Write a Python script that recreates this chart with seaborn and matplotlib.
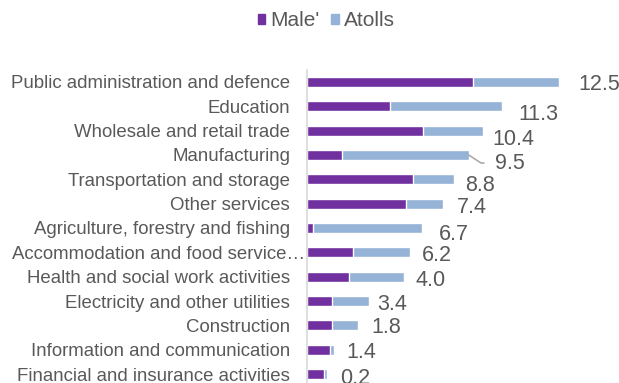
import matplotlib
matplotlib.use("Agg")
import matplotlib.pyplot as plt
from matplotlib.patches import Patch
from matplotlib.transforms import ScaledTranslation
import seaborn as sns
import pandas as pd

# Employment by industry, split between Male' and the atolls
industries = [
    "Public administration and defence",
    "Education",
    "Wholesale and retail trade",
    "Manufacturing",
    "Transportation and storage",
    "Other services",
    "Agriculture, forestry and fishing",
    "Accommodation and food service\u2026",
    "Health and social work activities",
    "Electricity and other utilities",
    "Construction",
    "Information and communication",
    "Financial and insurance activities",
]
male = [16.6, 8.3, 11.6, 3.5, 10.6, 9.9, 0.6, 4.6, 4.2, 2.5, 2.5, 2.3, 1.7]
atolls = [8.6, 11.2, 6.0, 12.7, 4.1, 3.7, 10.9, 5.7, 5.5, 3.7, 2.6, 0.4, 0.3]
shares = [12.5, 11.3, 10.4, 9.5, 8.8, 7.4, 6.7, 6.2, 4.0, 3.4, 1.8, 1.4, 0.2]

PURPLE = "#7030A0"
BLUE = "#95B3D7"
TEXT = "#595959"

sns.set_theme(style="white")
plt.rcParams["font.family"] = ["Liberation Sans", "DejaVu Sans"]

df = pd.DataFrame({"industry": industries, "male": male, "atolls": atolls})
df["total"] = df["male"] + df["atolls"]

W, H = 619, 383
fig = plt.figure(figsize=(W / 100, H / 100), dpi=100)
ax = fig.add_axes([306.7 / W, -3.2 / H, 300 / W, 316.4 / H])

sns.barplot(data=df, y="industry", x="total", color=BLUE, saturation=1,
            width=0.41, ax=ax)
sns.barplot(data=df, y="industry", x="male", color=PURPLE, saturation=1,
            width=0.41, ax=ax)

ax.set_xlim(0, 30)
ax.set_ylim(12.5, -0.5)
ax.set_xlabel("")
ax.set_ylabel("")
ax.set_xticks([])
for side in ("top", "right", "bottom"):
    ax.spines[side].set_visible(False)
ax.spines["left"].set_color("#D9D9D9")
ax.spines["left"].set_linewidth(1.2)
ax.tick_params(axis="y", length=0, pad=12, labelsize=13.4, labelcolor=TEXT)

# the truncated category label runs up to the axis line
for lbl in ax.get_yticklabels():
    if lbl.get_text().startswith("Accommodation"):
        lbl.set_transform(lbl.get_transform()
                          + ScaledTranslation(0.15, 0, fig.dpi_scale_trans))

# value labels (horizontal gap, downward shift) in pixels
nudges = [(20, 0), (17, 6), (10, 6.5), (26, 6.7), (11, 4), (14, 2), (17, 4),
          (12, 1), (12, 2), (9, 1.5), (14, 0), (13, 1), (13, 2)]
cap_half = 7.7
for i, (tot, val) in enumerate(zip(df["total"], shares)):
    dx, dy = nudges[i]
    kw = {}
    if i == 3:
        kw["arrowprops"] = dict(arrowstyle="-", color="#A6A6A6", lw=1.1,
                                shrinkA=5.3, shrinkB=0, relpos=(0, 0.54),
                                connectionstyle="angle,angleA=0,angleB=-33,rad=0")
    ax.annotate(f"{val:.1f}", xy=(tot, i), xytext=(dx, -(dy + cap_half)),
                textcoords="offset pixels", ha="left", va="baseline",
                fontsize=15.5, color=TEXT, annotation_clip=False, **kw)

fig.legend(handles=[Patch(color=PURPLE, label="Male'"),
                    Patch(color=BLUE, label="Atolls")],
           loc="center", bbox_to_anchor=(326.5 / W, 1 - 21 / H), ncol=2,
           frameon=False, fontsize=15, handlelength=0.36, handleheight=0.4,
           handletextpad=0.25, columnspacing=0.55, labelcolor=TEXT,
           borderaxespad=0, borderpad=0)

fig.savefig("out.png", dpi=100)
